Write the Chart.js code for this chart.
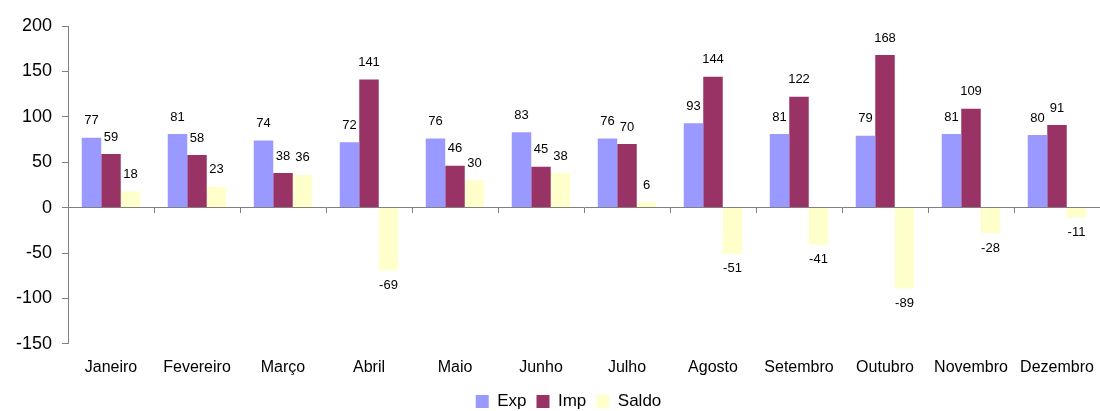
<!DOCTYPE html>
<html>
<head>
<meta charset="utf-8">
<script src="https://cdn.jsdelivr.net/npm/chart.js@4"></script>
<style>
  body { margin: 0; background: #fff; }
  #box { width: 1100px; height: 411px; }
</style>
</head>
<body>
<div id="box"><canvas id="grafico"></canvas></div>
<script>
// dados
var meses = ["Janeiro", "Fevereiro", "Março", "Abril", "Maio", "Junho", "Julho", "Agosto", "Setembro", "Outubro", "Novembro", "Dezembro"];
var exportacoes = [77, 81, 74, 72, 76, 83, 76, 93, 81, 79, 81, 80];
var importacoes = [59, 58, 38, 141, 46, 45, 70, 144, 122, 168, 109, 91];
var saldo = [18, 23, 36, -69, 30, 38, 6, -51, -41, -89, -28, -11];
var ticksY = [-150, -100, -50, 0, 50, 100, 150, 200];

var fonte = "'Liberation Sans', Arial, sans-serif";

// rotulos em cima/baixo das barras
var rotulos = {
  id: 'rotulos',
  afterDatasetsDraw: function (chart) {
    var ctx = chart.ctx;
    ctx.save();
    ctx.font = "13px " + fonte;
    ctx.fillStyle = "#000";
    ctx.textAlign = "center";
    ctx.textBaseline = "middle";
    chart.data.datasets.forEach(function (ds, i) {
      var meta = chart.getDatasetMeta(i);
      meta.data.forEach(function (bar, j) {
        var v = ds.data[j];
        var y = v >= 0 ? bar.y - 17 : bar.y + 15;
        ctx.fillText(String(v), bar.x, y);
      });
    });
    ctx.restore();
  }
};

// legenda um pouco mais pra direita, como no excel
var moverLegenda = {
  id: 'moverLegenda',
  afterLayout: function (chart) {
    chart.legend.left += 16;
    chart.legend.right += 16;
  }
};

const config = {
  type: 'bar',
  data: {
    labels: meses,
    datasets: [
      { label: 'Exp', data: exportacoes, backgroundColor: '#9999FF' },
      { label: 'Imp', data: importacoes, backgroundColor: '#993366' },
      { label: 'Saldo', data: saldo, backgroundColor: '#FFFFCC' }
    ]
  },
  options: {
    responsive: true,
    maintainAspectRatio: false,
    animation: false,
    datasets: { bar: { categoryPercentage: 0.68, barPercentage: 1.0 } },
    layout: { padding: { top: 26, right: -5, bottom: -9, left: 0 } },
    plugins: {
      legend: {
        position: 'bottom',
        labels: {
          boxWidth: 13, boxHeight: 13, padding: 10,
          color: '#000',
          font: { family: fonte, size: 17 }
        }
      },
      tooltip: { enabled: false }
    },
    scales: {
      x: {
        position: 'bottom',
        grid: { display: false, drawTicks: false },
        border: { display: false },
        ticks: { color: '#000', padding: 14, maxRotation: 0, autoSkip: false, font: { family: fonte, size: 16 } },
        afterFit: function (s) { s.height = s.height - 8; s.paddingLeft = 0; s.paddingRight = 0; }
      },
      // eixo no zero com os tracinhos
      x0: {
        type: 'category',
        labels: meses,
        position: { y: 0 },
        offset: true,
        grid: { offset: true, drawOnChartArea: false, drawTicks: true, tickLength: 5, color: '#808080' },
        border: { display: true, color: '#808080', width: 1 },
        ticks: { display: false }
      },
      y: {
        min: -150,
        max: 200,
        afterFit: function (s) { s.width = 68; },
        afterBuildTicks: function (s) { s.ticks = ticksY.map(function (v) { return { value: v }; }); },
        grid: { drawOnChartArea: false, drawTicks: true, tickLength: 6, color: '#808080' },
        border: { display: true, color: '#808080', width: 1 },
        ticks: { color: '#000', padding: 10, font: { family: fonte, size: 18 } }
      }
    }
  },
  plugins: [rotulos, moverLegenda]
};

var myChart = new Chart(document.getElementById("grafico"), config);
</script>
</body>
</html>
